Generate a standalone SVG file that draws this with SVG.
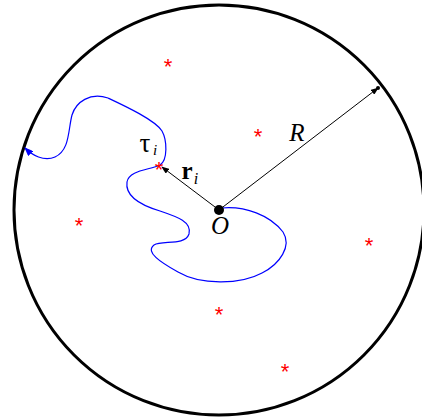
<svg xmlns="http://www.w3.org/2000/svg" width="422" height="420" viewBox="0 0 422 420">
<defs>
<style>
.star{font-family:"Liberation Sans",Arial,sans-serif;font-size:22px;fill:#ff0000;text-anchor:middle}
.lbl{font-family:"Liberation Serif","Times New Roman",serif;fill:#000}
.ray{stroke:#000;stroke-width:1;fill:none}
</style>
<marker id="ah" markerWidth="8" markerHeight="6" refX="7" refY="3" orient="auto" markerUnits="userSpaceOnUse">
<path d="M0,0 L8,3 L0,6 z" fill="#000"/>
</marker>
<marker id="ahb" markerWidth="9" markerHeight="7" refX="8" refY="3.5" orient="auto" markerUnits="userSpaceOnUse">
<path d="M0,0 L9,3.5 L0,7 z" fill="#0000ff"/>
</marker>
</defs>
<rect width="422" height="420" fill="#fff"/>
<g id="disk">
<circle cx="219" cy="210" r="205" fill="none" stroke="#000" stroke-width="3"/>
</g>
<g id="stars">
<text class="star" x="168" y="74">*</text>
<text class="star" x="258" y="144">*</text>
<text class="star" x="79" y="233">*</text>
<text class="star" x="369" y="253">*</text>
<text class="star" x="219" y="322">*</text>
<text class="star" x="285" y="379">*</text>
</g>
<g id="connectors">
<path id="walk" d="M222,208 C245,206 270,215 283,232 C292,246 280,264 262,273 C240,285 200,285 178,272 C160,262 145,252 154,245 C162,240 185,246 189,234 C192,222 178,217 160,211 C140,205 125,196 127,182 C129,170 150,170 160,165 C168,160 167,140 162,131 C155,120 125,106 108,98 C90,92 76,102 72,115 C68,130 70,150 55,157 C44,162 32,155 25,148" fill="none" stroke="#0000ff" stroke-width="1.2" marker-end="url(#ahb)"/>
<line class="ray" x1="219" y1="210" x2="162" y2="167" marker-end="url(#ah)"/>
<line class="ray" x1="219" y1="210" x2="378" y2="88" marker-end="url(#ah)"/>
</g>
<g id="tau-star">
<text class="star" x="159" y="177">*</text>
</g>
<g id="origin">
<circle cx="219" cy="210" r="5" fill="#000"/>
<circle cx="378" cy="88" r="2" fill="#000"/>
<text class="lbl" x="220" y="234" font-size="25" font-style="italic" text-anchor="middle">O</text>
</g>
<g id="labels">
<text class="lbl" x="145" y="152" font-size="27" text-anchor="middle">τ</text>
<text class="lbl" x="155" y="155" font-size="15" font-style="italic" text-anchor="middle">i</text>
<text class="lbl" x="297" y="141" font-size="25" font-style="italic" text-anchor="middle">R</text>
<text class="lbl" x="187" y="179" font-size="25" font-weight="bold" text-anchor="middle">r</text>
<text class="lbl" x="196" y="184" font-size="16" font-style="italic" text-anchor="middle">i</text>
</g>
</svg>
